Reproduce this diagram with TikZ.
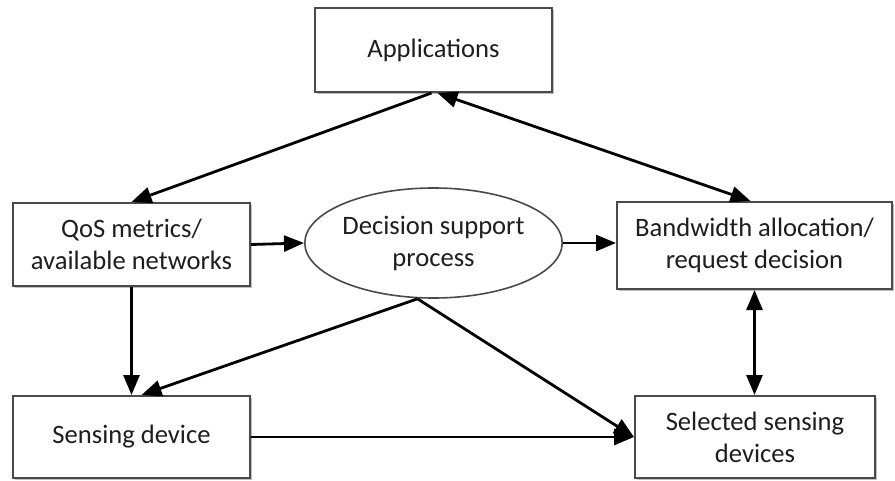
\documentclass[tikz,border=0pt]{standalone}
\usepackage{fontspec}
\setmainfont{Carlito}
\usetikzlibrary{arrows.meta,shapes.geometric,shadows}
\definecolor{edgegray}{HTML}{4A4A4A}
\definecolor{txt}{HTML}{1E1E1E}
\begin{document}
\begin{tikzpicture}[x=0.5pt,y=-0.5pt,
  every node/.style={font=\fontsize{13.3}{16}\selectfont, text=txt, align=center},
  boxnode/.style={draw=edgegray, line width=1pt, fill=white, rectangle, inner sep=0pt,
     drop shadow={shadow xshift=0.8pt, shadow yshift=-0.8pt, opacity=0.25, fill=black}},
  ellnode/.style={draw=edgegray, line width=0.8pt, fill=white, ellipse, inner sep=0pt,
     minimum width=126.5pt, minimum height=55pt},
  conn/.style={line width=1.4pt, draw=black, -{Triangle[length=10pt,width=8pt]}},
  bconn/.style={line width=1.4pt, draw=black, {Triangle[length=10pt,width=8pt]}-{Triangle[length=10pt,width=8pt]}}
]
\useasboundingbox (0,0) rectangle (895,481);
\node[boxnode, minimum width=118.5pt, minimum height=42pt] (app) at (433.5,50) {Applications};
\node[boxnode, minimum width=118.5pt, minimum height=41.5pt] (qos) at (131.5,244.5) {QoS metrics/\\available networks};
\node[ellnode] (dsp) at (433.5,243) {Decision support\\process};
\node[boxnode, minimum width=137.5pt, minimum height=43.5pt] (bw) at (754.5,245.5) {Bandwidth allocation/\\request decision};
\node[boxnode, minimum width=118.5pt, minimum height=41pt] (sd) at (131.5,437) {Sensing device};
\node[boxnode, minimum width=120pt, minimum height=41pt] (ssd) at (755,437) {Selected sensing\\devices};
\coordinate (dspb) at ([xshift=-8pt]dsp.south);
% connectors
\draw[conn] ([xshift=-1pt]app.south) -- (qos.north);
\draw[bconn] ([xshift=2pt]app.south) -- ([xshift=-2pt]bw.north);
\draw[conn] (qos.east) -- (dsp.west);
\draw[conn] (dsp.east) -- (bw.west |- dsp.east);
\draw[conn] (qos.south) -- (sd.north);
\draw[conn] (dspb) -- ([xshift=5pt]sd.north);
\draw[conn] (dspb) -- (ssd.west);
\draw[conn] (sd.east) -- (ssd.west);
\draw[bconn] (bw.south) -- (bw.south |- ssd.north);
\end{tikzpicture}
\end{document}
